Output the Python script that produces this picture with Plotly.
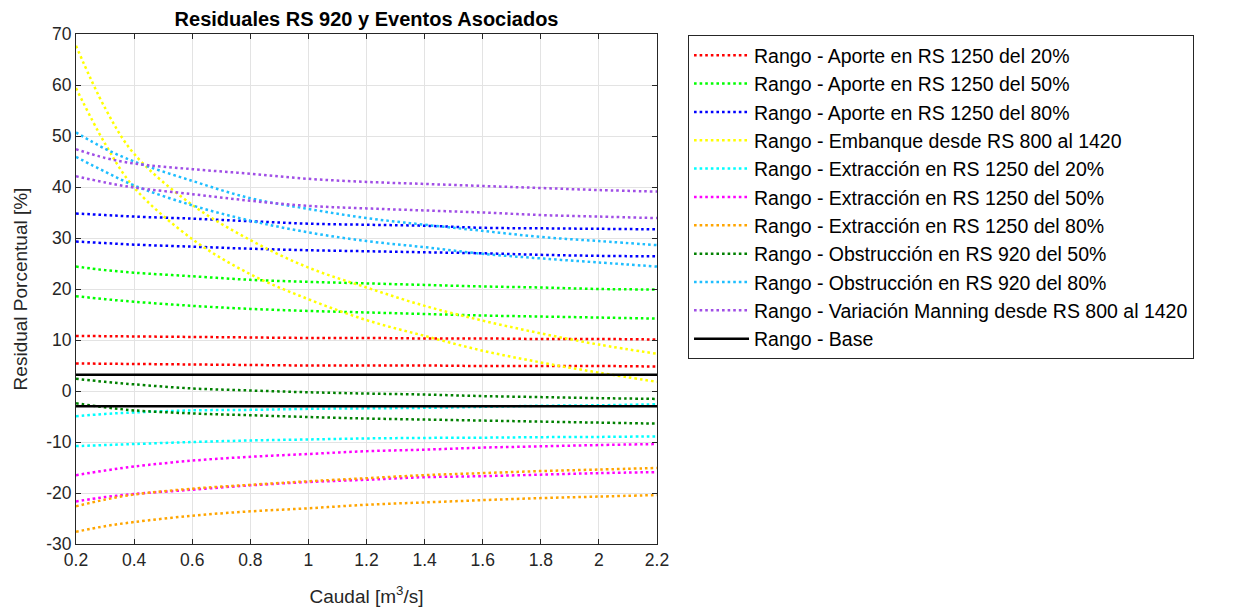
import plotly.graph_objects as go

# caudal (m3/s) sampled across the range
caudal = [0.2, 0.3, 0.4, 0.6, 0.8, 1.0, 1.2, 1.4, 1.6, 1.8, 2.0, 2.2]

aporte20_sup = [10.8, 10.75, 10.7, 10.6, 10.5, 10.4, 10.4, 10.3, 10.3, 10.2, 10.2, 10.1]
aporte20_inf = [5.4, 5.35, 5.3, 5.2, 5.1, 5.0, 5.0, 5.0, 4.9, 4.9, 4.9, 4.8]
aporte50_sup = [24.4, 23.7, 23.2, 22.5, 21.8, 21.4, 21.1, 20.8, 20.5, 20.3, 20.0, 19.9]
aporte50_inf = [18.6, 18.0, 17.5, 16.7, 16.1, 15.7, 15.4, 15.1, 14.8, 14.6, 14.4, 14.2]
aporte80_sup = [34.8, 34.5, 34.2, 33.8, 33.3, 32.8, 32.6, 32.4, 32.0, 31.9, 31.8, 31.7]
aporte80_inf = [29.3, 29.0, 28.7, 28.3, 27.9, 27.6, 27.4, 27.2, 27.0, 26.7, 26.5, 26.4]
embanque_sup = [67.7, 55.5, 46.5, 36.5, 29.6, 24.2, 20.3, 16.7, 13.8, 11.3, 9.1, 7.3]
embanque_inf = [59.4, 48.5, 39.9, 29.8, 22.9, 18.0, 13.9, 10.8, 7.9, 5.6, 3.6, 1.8]
extr20_sup = [-4.95, -4.5, -4.2, -3.8, -3.7, -3.5, -3.4, -3.3, -3.1, -2.9, -2.8, -2.6]
extr20_inf = [-10.8, -10.6, -10.4, -10.0, -9.7, -9.5, -9.3, -9.2, -9.15, -9.05, -9.0, -8.9]
extr50_sup = [-16.5, -15.6, -14.8, -13.65, -12.9, -12.35, -11.8, -11.5, -11.1, -10.85, -10.6, -10.4]
extr50_inf = [-21.65, -20.8, -20.2, -19.35, -18.5, -17.85, -17.4, -16.9, -16.7, -16.4, -16.1, -15.9]
extr80_sup = [-22.6, -21.3, -20.3, -19.15, -18.4, -17.7, -17.1, -16.5, -16.1, -15.7, -15.4, -15.1]
extr80_inf = [-27.6, -26.5, -25.7, -24.45, -23.6, -23.0, -22.3, -21.85, -21.4, -21.0, -20.7, -20.4]
obst50_sup = [2.4, 1.8, 1.3, 0.5, 0.1, -0.25, -0.5, -0.7, -1.0, -1.2, -1.4, -1.55]
obst50_inf = [-2.4, -3.2, -3.8, -4.4, -4.75, -5.1, -5.4, -5.6, -5.8, -6.0, -6.2, -6.4]
obst80_sup = [50.7, 47.5, 45.0, 41.2, 37.8, 35.7, 33.9, 32.6, 31.4, 30.2, 29.4, 28.6]
obst80_inf = [45.9, 43.0, 40.3, 36.4, 33.4, 31.1, 29.4, 28.2, 26.9, 26.0, 25.2, 24.4]
manning_sup = [47.4, 45.7, 44.6, 43.5, 42.6, 41.6, 41.0, 40.6, 40.2, 39.8, 39.4, 39.1]
manning_inf = [42.1, 40.9, 39.9, 38.6, 37.3, 36.3, 35.8, 35.4, 35.0, 34.5, 34.2, 33.9]
base_sup = [3.2] * len(caudal)
base_inf = [-3.0] * len(caudal)

xticks = [0.2, 0.4, 0.6, 0.8, 1.0, 1.2, 1.4, 1.6, 1.8, 2.0, 2.2]
xtick_text = ['0.2', '0.4', '0.6', '0.8', '1', '1.2', '1.4', '1.6', '1.8', '2', '2.2']
yticks = [-30, -20, -10, 0, 10, 20, 30, 40, 50, 60, 70]
ytick_text = ['-30', '-20', '-10', '0', '10', '20', '30', '40', '50', '60', '70']

rangos = [
    ('Rango - Aporte en RS 1250 del 20%', aporte20_sup, aporte20_inf, '#ff0000'),
    ('Rango - Aporte en RS 1250 del 50%', aporte50_sup, aporte50_inf, '#00ff00'),
    ('Rango - Aporte en RS 1250 del 80%', aporte80_sup, aporte80_inf, '#0000ff'),
    ('Rango - Embanque desde RS 800 al 1420', embanque_sup, embanque_inf, '#ffff00'),
    ('Rango - Extracción en RS 1250 del 20%', extr20_sup, extr20_inf, '#00ffff'),
    ('Rango - Extracción en RS 1250 del 50%', extr50_sup, extr50_inf, '#ff00ff'),
    ('Rango - Extracción en RS 1250 del 80%', extr80_sup, extr80_inf, '#ffa500'),
    ('Rango - Obstrucción en RS 920 del 50%', obst50_sup, obst50_inf, '#008000'),
    ('Rango - Obstrucción en RS 920 del 80%', obst80_sup, obst80_inf, '#1ebeff'),
    ('Rango - Variación Manning desde RS 800 al 1420', manning_sup, manning_inf, '#a04ee6'),
]

font = 'Liberation Sans, Arial, sans-serif'
ink = '#262626'

fig = go.Figure()
for name, sup, inf, col in rangos:
    for k, yy in enumerate([sup, inf]):
        fig.add_trace(go.Scatter(x=caudal, y=yy, mode='lines', name=name, legendgroup=name,
                                 showlegend=(k == 0), line_shape='spline',
                                 line=dict(color=col, width=2.5, dash='2.6px,3px')))
for k, yy in enumerate([base_sup, base_inf]):
    fig.add_trace(go.Scatter(x=caudal, y=yy, mode='lines', name='Rango - Base', legendgroup='base',
                             showlegend=(k == 0), line=dict(color='black', width=2.5)))

axis = dict(showline=True, linecolor=ink, linewidth=1, mirror='ticks', ticks='inside', ticklen=5,
            tickcolor=ink, tickfont=dict(family=font, size=17.5, color=ink), showgrid=True,
            gridcolor='#e3e3e3', gridwidth=1, zeroline=False)

fig.update_xaxes(axis, range=[0.2, 2.2], tickvals=xticks, ticktext=xtick_text,
                 title=dict(text='Caudal [m<sup>3</sup>/s]', font=dict(family=font, size=19, color=ink), standoff=20))
fig.update_yaxes(axis, range=[-30, 70], tickvals=yticks, ticktext=ytick_text,
                 title=dict(text='Residual Porcentual [%]', font=dict(family=font, size=19, color=ink), standoff=13))

fig.update_layout(
    width=1225, height=604, template=None,
    paper_bgcolor='white', plot_bgcolor='white',
    margin=dict(l=68, r=576, t=26, b=68),
    title=dict(text='<b>Residuales RS 920 y Eventos Asociados</b>', x=0.2927, xanchor='center',
               y=0.981, yanchor='middle', font=dict(family=font, size=20, color='black')),
    legend=dict(x=1.0534, xanchor='left', y=0.998, yanchor='top', bgcolor='white',
                bordercolor=ink, borderwidth=1, tracegroupgap=0, itemwidth=55,
                font=dict(family=font, size=19.5, color='black')),
)

fig.write_html('out.html')
